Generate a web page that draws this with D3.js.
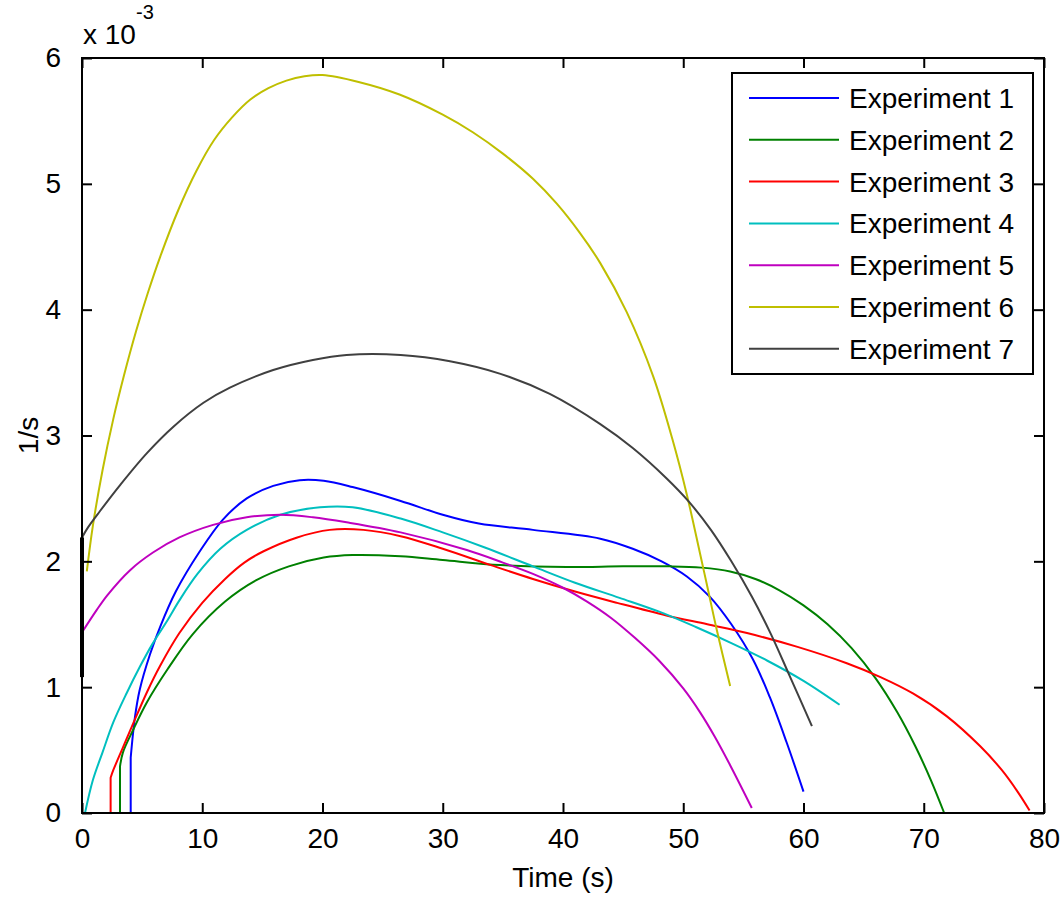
<!DOCTYPE html>
<html>
<head>
<meta charset="utf-8">
<script src="https://cdn.jsdelivr.net/npm/d3@7"></script>
<style>
  html, body { margin: 0; padding: 0; background: #fff; }
  svg { display: block; font-family: "Liberation Sans", Arial, sans-serif; }
</style>
</head>
<body>
<svg id="chart" width="1061" height="897"></svg>
<script>
// ---- Data (y in units of 1e-3 1/s) ----
const seriesNames = ["Experiment 1","Experiment 2","Experiment 3","Experiment 4","Experiment 5","Experiment 6","Experiment 7"];
const seriesColors = ["#0000ff","#008000","#ff0000","#00bfbf","#bf00bf","#bfbf00","#404040"];

const exp1 = [[4.05,0],[4.05,0.44],[4.4,0.76],[4.8,0.98],[5.65,1.26],[6.5,1.48],[7.8,1.76],[9.8,2.08],[11.7,2.33],[13.7,2.5],[15.9,2.6],[18.1,2.645],[20.1,2.64],[22.5,2.59],[26.5,2.48],[30,2.37],[33,2.3],[37.5,2.25],[43.1,2.18],[45.8,2.1],[48.2,2.0],[50.3,1.88],[52.2,1.72],[54,1.5],[55.8,1.22],[57.2,0.92],[58.6,0.56],[60.0,0.17]];
const exp2 = [[3.16,0],[3.16,0.37],[3.4,0.48],[4.25,0.66],[5.4,0.88],[7.1,1.14],[9.2,1.42],[11.9,1.68],[14.5,1.85],[17.2,1.96],[20.1,2.03],[22.5,2.05],[26.5,2.04],[30,2.01],[34.8,1.97],[40.3,1.955],[45,1.96],[49,1.96],[51.5,1.95],[53.9,1.92],[56,1.86],[58,1.77],[60,1.65],[62,1.5],[64,1.31],[66,1.07],[67.8,0.8],[69.3,0.53],[70.6,0.26],[71.7,0]];
const exp3 = [[2.38,0],[2.38,0.28],[2.6,0.34],[3.4,0.52],[4.25,0.71],[5.4,0.96],[6.5,1.17],[8.1,1.43],[10,1.67],[11.9,1.86],[13.5,1.99],[15.1,2.08],[17.9,2.19],[20.6,2.25],[23.4,2.25],[26.5,2.2],[30,2.1],[34,1.97],[37.5,1.86],[41,1.76],[44.5,1.67],[48.6,1.57],[52,1.5],[55.3,1.43],[59.5,1.32],[63.6,1.19],[66.4,1.08],[69.1,0.95],[71.9,0.77],[74.7,0.53],[76.5,0.34],[77.8,0.17],[78.8,0.02]];
const exp4 = [[0.25,0],[0.9,0.26],[1.7,0.48],[2.6,0.72],[3.7,0.95],[4.8,1.16],[5.9,1.35],[7.1,1.53],[8.1,1.69],[9.6,1.9],[11.5,2.1],[13.7,2.25],[16.5,2.37],[19.8,2.43],[22.5,2.43],[26.5,2.34],[30,2.23],[33.5,2.11],[37.5,1.96],[41,1.83],[44.7,1.71],[48,1.6],[51,1.48],[54,1.35],[57,1.21],[60,1.05],[63,0.86]];
const exp5 = [[0.1,1.45],[1.2,1.61],[2.1,1.73],[4.0,1.93],[5.9,2.07],[8.1,2.19],[10.9,2.29],[13.7,2.35],[16.5,2.37],[19.2,2.35],[22,2.31],[26.5,2.23],[32,2.09],[35,1.99],[37.5,1.9],[40,1.79],[42,1.68],[44,1.55],[46,1.39],[48,1.21],[50,0.99],[51.4,0.8],[52.6,0.61],[53.9,0.38],[55.7,0.04]];
const exp6 = [[0.4,1.92],[0.9,2.28],[1.7,2.72],[2.6,3.13],[3.5,3.48],[4.5,3.83],[5.5,4.14],[6.5,4.42],[8,4.79],[9.5,5.1],[11,5.35],[12.5,5.53],[14,5.67],[15.5,5.76],[17,5.82],[18.5,5.855],[20,5.865],[23,5.81],[26.4,5.71],[30,5.55],[32.5,5.41],[35,5.24],[37.5,5.04],[39.5,4.84],[41.4,4.61],[43.1,4.37],[45.3,3.98],[47.5,3.47],[49.1,2.97],[50.3,2.53],[51.4,2.06],[52.0,1.8],[52.8,1.45],[53.9,1.01]];
const exp7 = [[0,1.08],[0,2.19],[0.5,2.27],[1.5,2.4],[3.2,2.61],[5.4,2.86],[7.6,3.07],[10.1,3.26],[12.3,3.38],[15.9,3.52],[19.2,3.6],[22,3.64],[26.5,3.64],[30.6,3.59],[34.8,3.49],[38.9,3.33],[43.1,3.09],[45.8,2.9],[48.6,2.66],[50.5,2.47],[52.3,2.25],[54,2.0],[55.7,1.72],[57.3,1.42],[58.8,1.1],[60.7,0.69]];
const allSeries = [exp1, exp2, exp3, exp4, exp5, exp6, exp7];

const xTicks = [0,10,20,30,40,50,60,70,80];
const yTicks = [0,1,2,3,4,5,6];
const xLabel = "Time (s)";
const yLabel = "1/s";

// ---- Layout ----
const svg = d3.select("#chart");
const L = 82, T = 58, R = 1044, B = 813;
const x = d3.scaleLinear().domain([0, 80]).range([L, R]);
const y = d3.scaleLinear().domain([0, 6]).range([B, T]);

svg.append("rect").attr("width", 1061).attr("height", 897).attr("fill", "#fff");

// data lines: a leading vertical jump is drawn straight, the rest smoothly
const smooth = d3.line().x(d => x(d[0])).y(d => y(d[1])).curve(d3.curveCatmullRom.alpha(0.5));
const straight = d3.line().x(d => x(d[0])).y(d => y(d[1]));
function seriesPath(d) {
  if (d.length > 2 && d[0][0] === d[1][0]) {
    return straight(d.slice(0, 2)) + smooth(d.slice(1)).replace(/^M[^CL]*/, "");
  }
  return smooth(d);
}
svg.append("g")
  .selectAll("path").data(allSeries).join("path")
  .attr("d", seriesPath)
  .attr("fill", "none")
  .attr("stroke", (d, i) => seriesColors[i])
  .attr("stroke-width", 2)
  .attr("stroke-linejoin", "round");

// axes
const fs = 28;
function styleAxis(g, showLabels) {
  g.select(".domain").remove();
  g.selectAll(".tick line").attr("stroke", "#000").attr("stroke-width", 2);
  g.selectAll(".tick text").attr("fill", "#000").style("font-size", fs + "px")
    .style("font-family", '"Liberation Sans", Arial, sans-serif');
  if (!showLabels) g.selectAll(".tick text").remove();
}
svg.append("g").attr("transform", `translate(0,${B})`)
  .call(d3.axisBottom(x).tickValues(xTicks).tickFormat(d3.format("d")).tickSizeInner(-10).tickSizeOuter(0).tickPadding(16))
  .call(g => styleAxis(g, true))
  .call(g => g.selectAll(".tick text").attr("dy", null).attr("y", 35));
svg.append("g").attr("transform", `translate(0,${T})`)
  .call(d3.axisTop(x).tickValues(xTicks).tickSizeInner(-10).tickSizeOuter(0))
  .call(g => styleAxis(g, false));
svg.append("g").attr("transform", `translate(${L},0)`)
  .call(d3.axisLeft(y).tickValues(yTicks).tickFormat(d3.format("d")).tickSizeInner(-10).tickSizeOuter(0).tickPadding(21))
  .call(g => styleAxis(g, true));
svg.append("g").attr("transform", `translate(${R},0)`)
  .call(d3.axisRight(y).tickValues(yTicks).tickSizeInner(-10).tickSizeOuter(0))
  .call(g => styleAxis(g, false));

// box
svg.append("rect").attr("x", L).attr("y", T).attr("width", R - L).attr("height", B - T)
  .attr("fill", "none").attr("stroke", "#000").attr("stroke-width", 2);

// experiment 7 initial vertical jump lies on the axis: redraw it slightly thicker
svg.append("path").attr("d", straight(exp7.slice(0, 2)))
  .attr("stroke", "#000").attr("stroke-width", 4).attr("fill", "none");

// exponent label
svg.append("text").attr("x", 83).attr("y", 44).attr("fill", "#000")
  .style("font-size", fs + "px").text("x 10");
svg.append("text").attr("x", 136).attr("y", 19).attr("fill", "#000")
  .style("font-size", "20px").text("-3");

// axis labels
svg.append("text").attr("x", (L + R) / 2).attr("y", 887).attr("text-anchor", "middle")
  .attr("fill", "#000").style("font-size", fs + "px").text(xLabel);
svg.append("text").attr("transform", `translate(38,${(T + B) / 2}) rotate(-90)`)
  .attr("text-anchor", "middle").attr("fill", "#000").style("font-size", fs + "px").text(yLabel);

// legend
const lg = svg.append("g");
lg.append("rect").attr("x", 732).attr("y", 73).attr("width", 301).attr("height", 301)
  .attr("fill", "#fff").attr("stroke", "#000").attr("stroke-width", 2);
const rows = lg.selectAll("g.row").data(seriesNames).join("g").attr("class", "row")
  .attr("transform", (d, i) => `translate(0,${98 + i * 41.8})`);
rows.append("line").attr("x1", 749).attr("x2", 839).attr("y1", 0).attr("y2", 0)
  .attr("stroke", (d, i) => seriesColors[i]).attr("stroke-width", 2);
rows.append("text").attr("x", 849).attr("y", 0).attr("dy", "0.36em").attr("fill", "#000")
  .style("font-size", fs + "px").text(d => d);
</script>
</body>
</html>
